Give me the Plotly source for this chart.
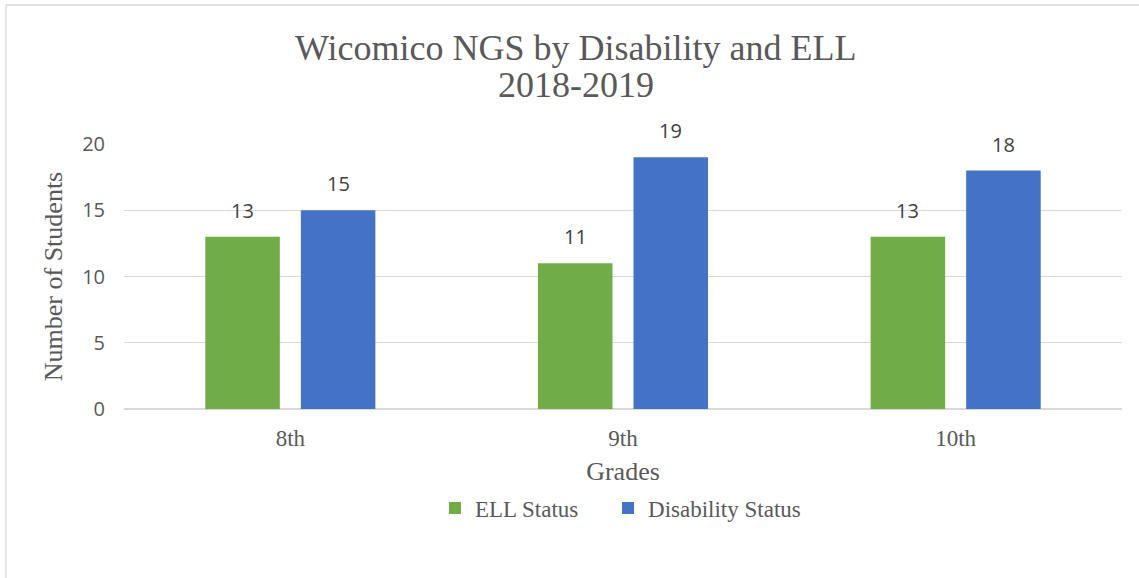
import plotly.graph_objects as go

# Chart data
grades = ["8th", "9th", "10th"]
ell_status = [13, 11, 13]
disability_status = [15, 19, 18]
series_names = ["ELL Status", "Disability Status"]
y_ticks = [0, 5, 10, 15, 20]

GREEN = "#70AD47"
BLUE = "#4472C4"
TEXT = "#595959"
LABEL = "#404040"
GRID = "#D9D9D9"
SERIF = "Liberation Serif, Times New Roman, serif"
SANS = "Open Sans, Calibri, sans-serif"

W, H = 1139, 578
M_L, M_R, M_T, M_B = 124, 17, 144, 169
BARGAP = 0.4256
BARGROUPGAP = 0.22

fig = go.Figure()
fig.add_trace(go.Bar(name=series_names[0], x=grades, y=ell_status, legend="legend",
                     marker=dict(color=GREEN, line=dict(width=0))))
fig.add_trace(go.Bar(name=series_names[1], x=grades, y=disability_status, legend="legend2",
                     marker=dict(color=BLUE, line=dict(width=0))))

# value labels above each bar, offset horizontally to the centre of its slot
plot_w = W - M_L - M_R
plot_h = H - M_T - M_B
cat_px = plot_w / len(grades)
slot_px = (1 - BARGAP) * cat_px / 2
annotations = []
for values, shift in ((ell_status, -slot_px / 2), (disability_status, slot_px / 2)):
    for g, v in zip(grades, values):
        annotations.append(dict(
            x=g, y=v, xref="x", yref="y", text=str(v), showarrow=False,
            xshift=shift, yanchor="bottom", yshift=11,
            font=dict(family=SANS, size=20, color=LABEL)))

# two-line chart title
title_font = dict(family=SERIF, size=36, color=TEXT)
annotations.append(dict(x=0.4529, y=1.3623, xref="paper", yref="paper",
                        text="Wicomico NGS by Disability and ELL", showarrow=False,
                        xanchor="center", yanchor="middle", borderpad=0,
                        font=title_font))
annotations.append(dict(x=0.4529, y=1.2226, xref="paper", yref="paper",
                        text="2018-2019", showarrow=False,
                        xanchor="center", yanchor="middle", borderpad=0,
                        font=title_font))

# outer chart frame
shapes = [dict(type="rect", xref="paper", yref="paper",
               x0=(6 - M_L) / plot_w, x1=(W + 20 - M_L) / plot_w,
               y0=-1.0, y1=1 + (M_T - 5) / plot_h,
               line=dict(color=GRID, width=1.3), fillcolor="rgba(0,0,0,0)",
               layer="below")]

legend_font = dict(family=SERIF, size=23, color=TEXT)
legend_y = 1 - (508 - M_T) / plot_h

fig.update_layout(
    width=W, height=H,
    margin=dict(l=M_L, r=M_R, t=M_T, b=M_B, autoexpand=False),
    paper_bgcolor="white", plot_bgcolor="white",
    barmode="group", bargap=BARGAP, bargroupgap=BARGROUPGAP,
    showlegend=True,
    legend=dict(orientation="h", x=0.3116, xanchor="left", y=legend_y, yanchor="middle",
                font=legend_font, bgcolor="rgba(0,0,0,0)"),
    legend2=dict(orientation="h", x=0.485, xanchor="left", y=legend_y, yanchor="middle",
                 font=legend_font, bgcolor="rgba(0,0,0,0)"),
    annotations=annotations,
    shapes=shapes,
    xaxis=dict(showgrid=False, showline=False, zeroline=False, ticks="",
               tickfont=dict(family=SERIF, size=23, color=TEXT),
               ticklabelstandoff=13,
               title=dict(text="Grades", font=dict(family=SERIF, size=26, color=TEXT),
                          standoff=11)),
    yaxis=dict(range=[0, 20], tickvals=y_ticks, showgrid=True, gridcolor=GRID,
               gridwidth=1.3, zeroline=True, zerolinecolor=GRID, zerolinewidth=2,
               showline=False, ticks="", ticklabelstandoff=18,
               tickfont=dict(family=SANS, size=20, color=TEXT),
               title=dict(text="Number of Students",
                          font=dict(family=SERIF, size=26, color=TEXT), standoff=12)),
)

fig.write_html("out.html")
